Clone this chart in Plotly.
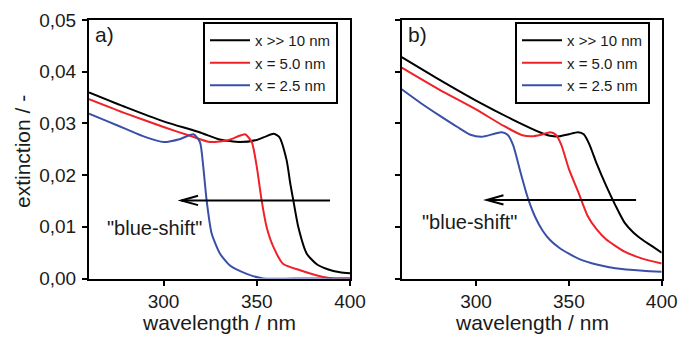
import plotly.graph_objects as go

# ---------------- data ----------------
# panel a)
a_black_x = [260, 280, 300, 320, 330, 341, 350, 355, 359, 362, 366, 368, 369.6, 372.3, 376.8, 382, 388, 394.6, 400]
a_black_y = [0.0360, 0.0331, 0.0304, 0.0282, 0.0269, 0.0264, 0.0268, 0.0275, 0.0280, 0.0274, 0.0229, 0.0183, 0.0151, 0.0099, 0.0048, 0.0028, 0.0018, 0.0012, 0.0010]

a_red_x = [260, 280, 300, 315, 325, 335, 340, 343.7, 347.3, 350, 352.6, 355.3, 358.9, 364.2, 373.2, 385.7, 392, 400]
a_red_y = [0.0347, 0.0319, 0.0293, 0.0275, 0.0264, 0.0268, 0.0275, 0.0279, 0.0264, 0.0216, 0.0151, 0.0099, 0.0061, 0.0028, 0.0016, 0.0003, 0.0, 0.0]

a_blue_x = [260, 270, 280, 290, 300, 309, 316, 319.5, 321.3, 323.1, 325.8, 330.3, 335.6, 344.6, 353.5, 370, 400]
a_blue_y = [0.0319, 0.0304, 0.0289, 0.0274, 0.0264, 0.0270, 0.0279, 0.0264, 0.0216, 0.0151, 0.0087, 0.0048, 0.0025, 0.0009, 0.0, 0.0, 0.0]

# panel b)
b_black_x = [260, 280, 300, 320, 335, 340, 345, 350, 355, 358, 361, 365, 370, 375, 380, 385, 390, 395, 400]
b_black_y = [0.0428, 0.0385, 0.0344, 0.0307, 0.0282, 0.0276, 0.0275, 0.0279, 0.0283, 0.0279, 0.0260, 0.0222, 0.0180, 0.0142, 0.0108, 0.0088, 0.0074, 0.0062, 0.0050]

b_red_x = [260, 280, 300, 315, 325, 330, 335, 340, 343, 346, 350, 355, 360, 365, 370, 380, 390, 400]
b_red_y = [0.0408, 0.0366, 0.0327, 0.0295, 0.0277, 0.0275, 0.0278, 0.0283, 0.0278, 0.0258, 0.0212, 0.0168, 0.0122, 0.0095, 0.0076, 0.0052, 0.0038, 0.0029]

b_blue_x = [260, 270, 280, 290, 297, 303, 310, 314, 317, 320, 324, 328, 332, 336, 340, 345, 350, 356, 365, 375, 390, 400]
b_blue_y = [0.0366, 0.0340, 0.0316, 0.0293, 0.0278, 0.0274, 0.0280, 0.0283, 0.0278, 0.0258, 0.0205, 0.0155, 0.0118, 0.0092, 0.0074, 0.0059, 0.0048, 0.0037, 0.0027, 0.0020, 0.0015, 0.0013]

series_names = ["x >> 10 nm", "x = 5.0 nm", "x = 2.5 nm"]
series_colors = ["#000000", "#ee2228", "#3a50a8"]

x_range = [260, 400]
y_range = [0, 0.05]
x_ticks = [300, 350, 400]
y_ticks = [0.00, 0.01, 0.02, 0.03, 0.04, 0.05]

# arrow annotations: (tail_x, tip_x, y)
arrow_a = (389.3, 309.5, 0.0151)
arrow_b = (386.2, 305.8, 0.0152)
label_a = (294.9, 0.0098)
label_b = (296.3, 0.0110)

FONT = "Liberation Sans, Arial, Helvetica, sans-serif"
TXT = "#1a1a1a"

fig = go.Figure()

panels = [
    ("x", "y", "legend", [(a_black_x, a_black_y), (a_red_x, a_red_y), (a_blue_x, a_blue_y)]),
    ("x2", "y2", "legend2", [(b_black_x, b_black_y), (b_red_x, b_red_y), (b_blue_x, b_blue_y)]),
]
for xa, ya, leg, data in panels:
    for (xs, ys), name, col in zip(data, series_names, series_colors):
        fig.add_trace(go.Scatter(
            x=xs, y=ys, mode="lines", name=name, xaxis=xa, yaxis=ya, legend=leg,
            line=dict(color=col, width=2, shape="spline", smoothing=0.6),
            hoverinfo="skip",
        ))

W, H = 678, 339
ydom = [1 - 278.5 / H, 1 - 20 / H]
xdom1 = [89 / W, 350 / W]
xdom2 = [401.7 / W, 661.7 / W]

axis_common = dict(
    showline=True, linecolor="black", linewidth=2, mirror=True,
    ticks="outside", ticklen=5, tickwidth=2, tickcolor="black",
    showgrid=False, zeroline=False, automargin=False,
    tickfont=dict(family=FONT, size=19, color=TXT),
)

legend_common = dict(
    xanchor="left", yanchor="top",
    bordercolor="black", borderwidth=2, bgcolor="white",
    font=dict(family=FONT, size=15, color=TXT), itemwidth=40,
    tracegroupgap=0,
)

fig.update_layout(
    width=W, height=H,
    margin=dict(l=0, r=0, t=0, b=0, autoexpand=False),
    paper_bgcolor="white", plot_bgcolor="white",
    separators=",.",
    font=dict(family=FONT, color=TXT),
    xaxis=dict(domain=xdom1, range=x_range, tickvals=x_ticks, anchor="y", **axis_common),
    yaxis=dict(domain=ydom, range=y_range, tickvals=y_ticks, tickformat=".2f", anchor="x",
               ticklabelstandoff=2, **axis_common),
    xaxis2=dict(domain=xdom2, range=x_range, tickvals=x_ticks, anchor="y2", **axis_common),
    yaxis2=dict(domain=ydom, range=y_range, tickvals=y_ticks, showticklabels=False, anchor="x2", **axis_common),
    legend=dict(x=203 / W, y=1 - 22 / H, **legend_common),
    legend2=dict(x=515 / W, y=1 - 22 / H, **legend_common),
    showlegend=True,
)

# arrows
chev_dx, chev_dy = 9, 0.0009
for (tail, tip, yv), xr, yr in [(arrow_a, "x", "y"), (arrow_b, "x2", "y2")]:
    fig.add_shape(type="line", x0=tail, x1=tip, y0=yv, y1=yv, xref=xr, yref=yr,
                  line=dict(color="black", width=2))
    fig.add_shape(type="path", xref=xr, yref=yr,
                  path=f"M {tip + chev_dx},{yv + chev_dy} L {tip},{yv} L {tip + chev_dx},{yv - chev_dy}",
                  line=dict(color="black", width=2))

for (lx, ly), xr, yr in [(label_a, "x", "y"), (label_b, "x2", "y2")]:
    fig.add_annotation(x=lx, y=ly, xref=xr, yref=yr, text='"blue-shift"', showarrow=False,
                       xanchor="center", yanchor="middle",
                       font=dict(family=FONT, size=20, color=TXT))

# panel labels
for txt, xr in [("a)", "x domain"), ("b)", "x2 domain")]:
    fig.add_annotation(x=0.015, y=0.942, xref=xr, yref="y domain", text=txt, showarrow=False,
                       xanchor="left", yanchor="middle",
                       font=dict(family=FONT, size=21, color=TXT))

# axis titles
fig.add_annotation(x=22 / W, y=1 - 152 / H, xref="paper", yref="paper", text="extinction / -",
                   textangle=-90, showarrow=False, xanchor="center", yanchor="middle",
                   font=dict(family=FONT, size=21, color=TXT))
for xr in ["x domain", "x2 domain"]:
    fig.add_annotation(x=0.5, y=1 - 322 / H, xref=xr, yref="paper", text="wavelength / nm",
                       showarrow=False, xanchor="center", yanchor="middle",
                       font=dict(family=FONT, size=21, color=TXT))

# remove the default 8px page margin so the figure fills the window exactly
fig.write_html(
    "out.html",
    config={"displayModeBar": False},
    post_script="document.body.style.margin='0';document.body.style.overflow='hidden';",
)
